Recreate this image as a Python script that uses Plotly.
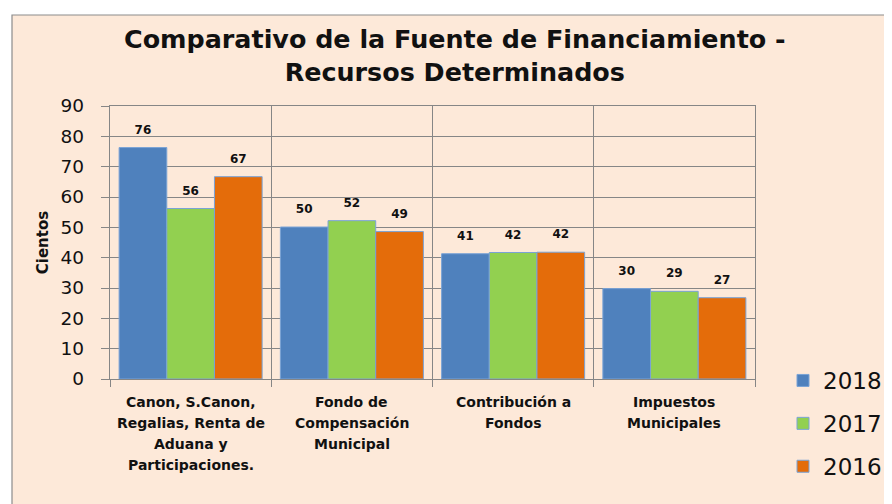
import plotly.graph_objects as go

categories = [
    "Canon, S.Canon,<br>Regalias, Renta de<br>Aduana y<br>Participaciones.",
    "Fondo de<br>Compensación<br>Municipal",
    "Contribución a<br>Fondos",
    "Impuestos<br>Municipales",
]
series_names = ["2018", "2017", "2016"]
values_2018 = [76.3, 50.1, 41.3, 29.8]
values_2017 = [56.2, 52.2, 41.7, 28.9]
values_2016 = [66.7, 48.6, 41.8, 26.8]
y_ticks = [0, 10, 20, 30, 40, 50, 60, 70, 80, 90]

colors = ["#4F81BD", "#92D050", "#E46C0A"]
series_values = [values_2018, values_2017, values_2016]

FONT = "DejaVu Sans"
TXT = "#111111"
W, H = 892, 504
# page body has an 8px margin; layout expressed in figure coordinates
L, R, T, B = 102, 145, 98, 133
pw, ph = W - L - R, H - T - B


def px_x(x):
    return (x - L) / pw


def px_y(y):
    return (H - B - y) / ph


fig = go.Figure()
for name, vals, col in zip(series_names, series_values, colors):
    fig.add_trace(go.Bar(
        x=categories, y=vals, name=name, offsetgroup=name, legendgroup=name,
        marker=dict(color=col, line=dict(color="#7AA3D6", width=1)),
        hoverinfo="skip",
    ))
for name, vals in zip(series_names, series_values):
    fig.add_trace(go.Scatter(
        x=categories, y=vals, offsetgroup=name, mode="markers+text",
        text=[f"{v:.0f}" for v in vals], textposition="top center",
        marker=dict(size=16, opacity=0),
        textfont=dict(family=FONT, size=12, color=TXT, weight="bold"),
        showlegend=False, hoverinfo="skip", cliponaxis=False,
    ))

annotations = [dict(
    x=px_x(447), xref="paper", y=px_y(47), yref="paper",
    xanchor="center", yanchor="middle",
    text="<b>Comparativo de la Fuente de Financiamiento -<br>Recursos Determinados</b>",
    showarrow=False, font=dict(family=FONT, size=25.4, color=TXT),
)]
for cat in categories:
    for i, line in enumerate(cat.split("<br>")):
        annotations.append(dict(
            x=cat, xref="x", y=0, yref="paper", yanchor="middle",
            yshift=-(23 + 21 * i), text=f"<b>{line}</b>", showarrow=False,
            font=dict(family=FONT, size=14, color=TXT),
        ))

shapes = [dict(
    type="rect", xref="paper", yref="paper", layer="below",
    x0=px_x(4), x1=px_x(W + 20), y0=px_y(H + 20), y1=px_y(7),
    fillcolor="#FDE9D9", line=dict(color="#8C8C8C", width=1.2),
)]

fig.update_layout(
    width=W, height=H,
    margin=dict(l=L, r=R, t=T, b=B, autoexpand=False),
    paper_bgcolor="white", plot_bgcolor="white",
    barmode="group", bargap=0.113, bargroupgap=0,
    scattermode="group", scattergap=0.113,
    xaxis=dict(
        type="category", showticklabels=False, tickson="boundaries",
        ticks="outside", ticklen=7, tickcolor="#868686", tickwidth=1.3,
        showgrid=True, gridcolor="#868686", gridwidth=1.3,
        showline=True, linecolor="#868686", linewidth=1.3, mirror=True,
        zeroline=False,
    ),
    yaxis=dict(
        range=[0, 90], tickvals=y_ticks, ticks="outside", ticklen=8,
        tickcolor="#868686", tickwidth=1.3, ticklabelstandoff=13,
        tickfont=dict(family=FONT, size=18.5, color=TXT),
        showgrid=True, gridcolor="#868686", gridwidth=1.3,
        showline=True, linecolor="#868686", linewidth=1.3, mirror=True,
        zeroline=False,
        title=dict(text="<b>Cientos</b>", standoff=8,
                   font=dict(family=FONT, size=15, color=TXT)),
    ),
    legend=dict(
        x=px_x(775), xanchor="left", y=px_y(351), yanchor="top",
        font=dict(family=FONT, size=23, color=TXT),
        bgcolor="rgba(0,0,0,0)", traceorder="grouped", tracegroupgap=10,
    ),
    shapes=shapes,
    annotations=annotations,
    showlegend=True,
)

fig.write_html("out.html")
